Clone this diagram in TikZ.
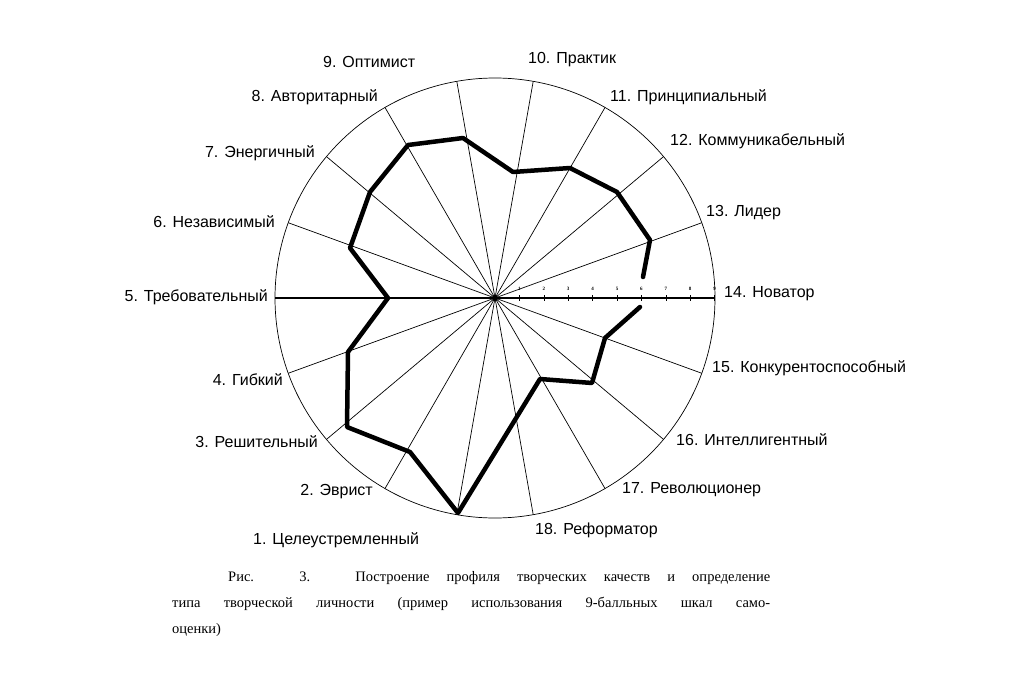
\documentclass[tikz,border=0pt]{standalone}
\usepackage{fontspec}
\usetikzlibrary{calc}
\setmainfont{Liberation Serif}
\newfontfamily\lblfont{Liberation Sans}
\begin{document}
\begin{tikzpicture}[x=1pt,y=-1pt,
  lbl/.style={font=\lblfont\fontsize{16}{18}\selectfont, inner sep=0pt},
  spoke/.style={line width=0.7pt},
  prof/.style={line width=4.5pt, line join=round, line cap=round},
  captxt/.style={font=\fontsize{14.5}{16}\selectfont, inner sep=0pt, anchor=west}]
\useasboundingbox (0,0) rectangle (1025,690);
\coordinate (O) at (495,298);
\draw[spoke] (O) circle[radius=220];
\foreach \a in {20,40,...,160} \draw[spoke] ($(O)+(\a:220)$) -- ($(O)+(\a+180:220)$);
\draw[line width=1.1pt] (275,298) -- (715,298);
\fill (O) circle[radius=3];
\foreach \k in {1,...,9}{
  \draw[line width=0.6pt] (495+24.4*\k,295) -- (495+24.4*\k,301);
  \node[font=\bfseries\tiny, inner sep=0pt] (t\k) at (495+24.4*\k,289) {\k};
}
% profile
\coordinate (p1) at (643,277);
\coordinate (p2) at (650,240);
\coordinate (p3) at (617,192);
\coordinate (p4) at (570,168);
\coordinate (p5) at (513,172);
\coordinate (p6) at (463,138);
\coordinate (p7) at (408,145);
\coordinate (p8) at (370,192);
\coordinate (p9) at (350,248);
\coordinate (p10) at (388,298);
\coordinate (p11) at (348,352);
\coordinate (p12) at (347,427);
\coordinate (p13) at (410,452);
\coordinate (p14) at (458,513);
\coordinate (p15) at (540,379);
\coordinate (p16) at (592,383);
\coordinate (p17) at (605,338);
\coordinate (p18) at (640,307);
\draw[prof] (p1) -- (p2) -- (p3) -- (p4) -- (p5) -- (p6) -- (p7) -- (p8) -- (p9) -- (p10) -- (p11) -- (p12) -- (p13) -- (p14) -- (p15) -- (p16) -- (p17) -- (p18);
% labels
\node[lbl,anchor=west] (l9) at (323,62) {9. Оптимист};
\node[lbl,anchor=west] (l10) at (528,60) {10. Практик};
\node[lbl,anchor=west] (l11) at (610,97) {11. Принципиальный};
\node[lbl,anchor=east] (l8) at (378,97) {8. Авторитарный};
\node[lbl,anchor=west] (l12) at (670,141) {12. Коммуникабельный};
\node[lbl,anchor=east] (l7) at (315,153) {7. Энергичный};
\node[lbl,anchor=west] (l13) at (706,213) {13. Лидер};
\node[lbl,anchor=east] (l6) at (275,222) {6. Независимый};
\node[lbl,anchor=west] (l14) at (724,294) {14. Новатор};
\node[lbl,anchor=east] (l5) at (268,297) {5. Требовательный};
\node[lbl,anchor=west] (l15) at (712,368) {15. Конкурентоспособный};
\node[lbl,anchor=east] (l4) at (283,380) {4. Гибкий};
\node[lbl,anchor=west] (l16) at (676,440) {16. Интеллигентный};
\node[lbl,anchor=east] (l3) at (318,442) {3. Решительный};
\node[lbl,anchor=west] (l17) at (622,490) {17. Революционер};
\node[lbl,anchor=east] (l2) at (373,492) {2. Эврист};
\node[lbl,anchor=west] (l18) at (535,530) {18. Реформатор};
\node[lbl,anchor=west] (l1) at (253,540) {1. Целеустремленный};
% caption
\node[captxt] (c1) at (228,578) {\hbox to 542pt{Рис. 3. Построение профиля творческих качеств и определение}};
\node[captxt] (c2) at (172,604) {\hbox to 598pt{типа творческой личности (пример использования 9-балльных шкал само-}};
\node[captxt] (c3) at (172,630) {оценки)};
\end{tikzpicture}
\end{document}
